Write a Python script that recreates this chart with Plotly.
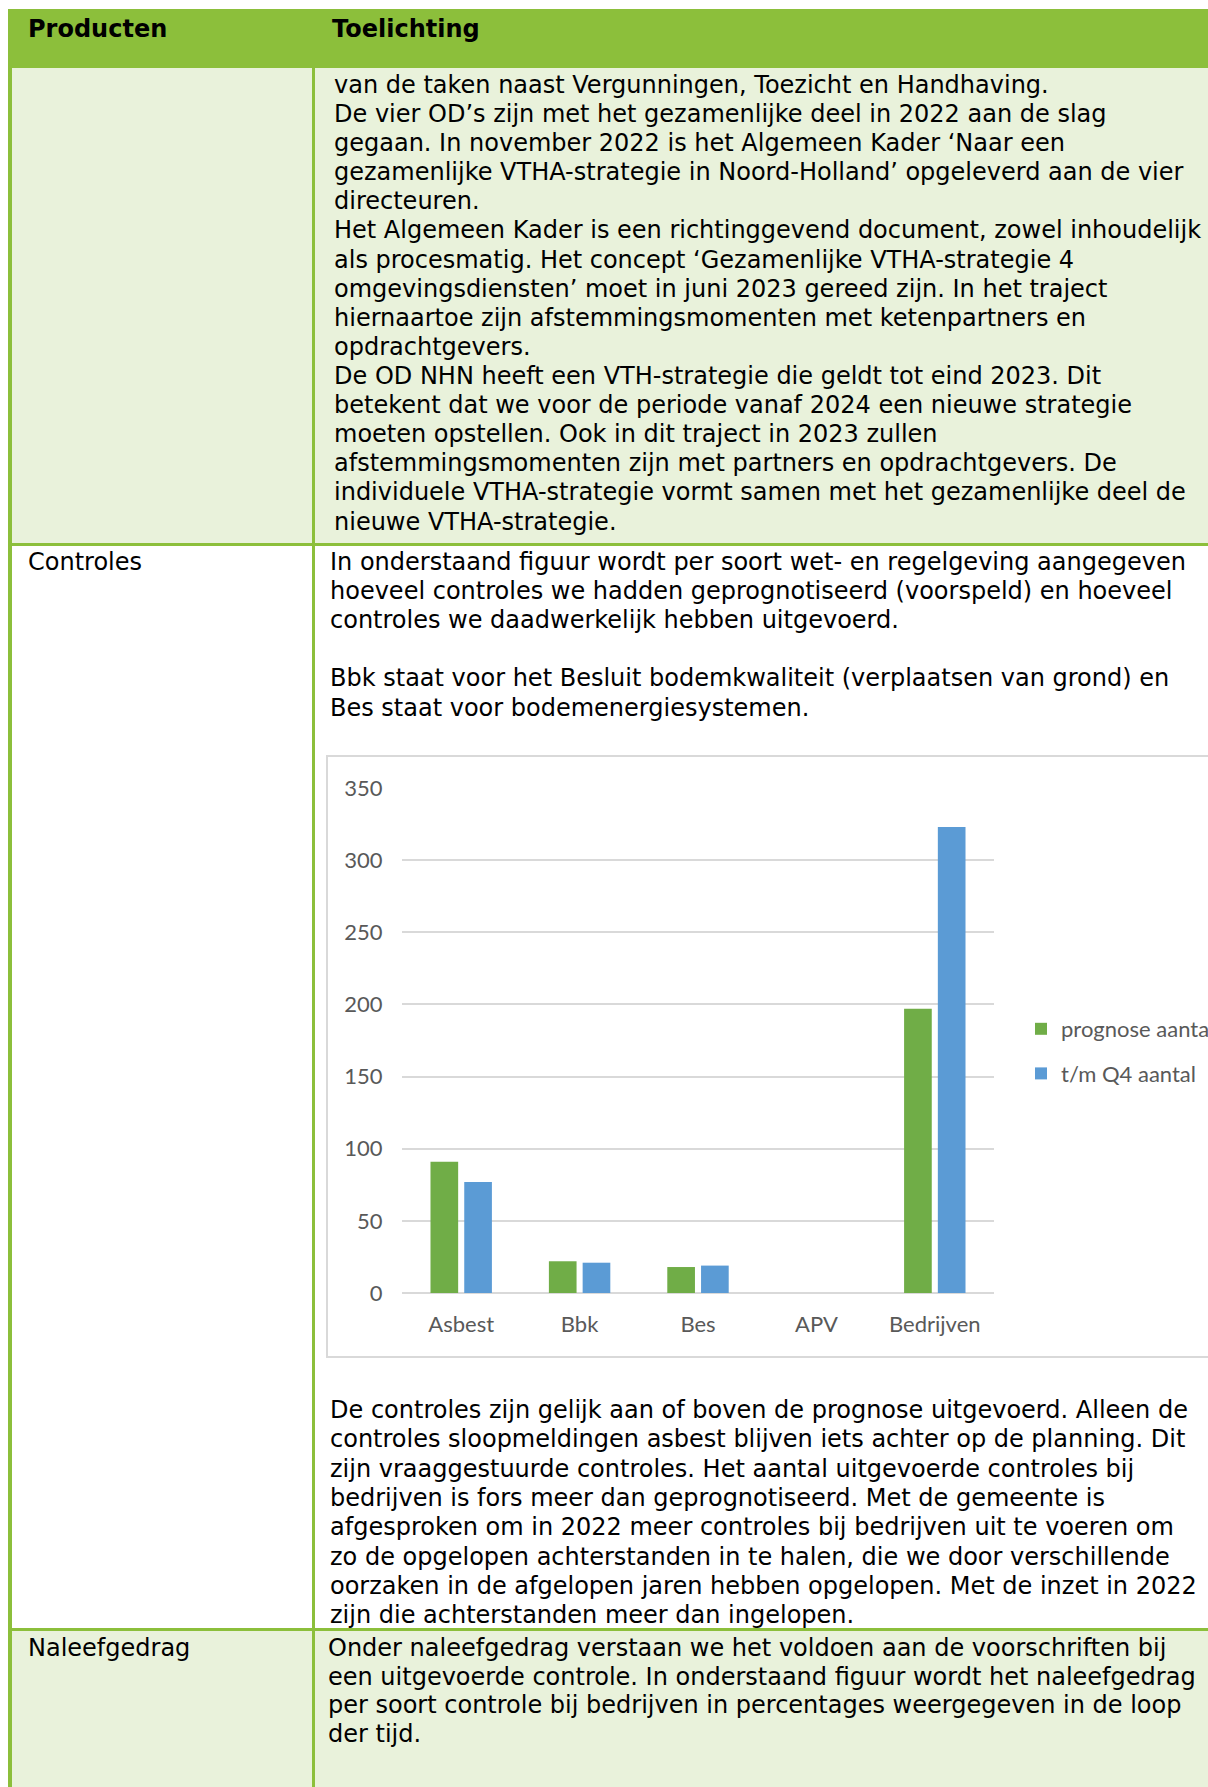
import plotly.graph_objects as go

# ---------------- data ----------------
categories = ["Asbest", "Bbk", "Bes", "APV", "Bedrijven"]
prognose_aantal = [91, 22, 18, 0, 197]
tm_q4_aantal = [77, 21, 19, 0, 323]
y_ticks = [0, 50, 100, 150, 200, 250, 300, 350]

header_left = "Producten"
header_right = "Toelichting"

row1_lines = [
    "van de taken naast Vergunningen, Toezicht en Handhaving.",
    "De vier OD’s zijn met het gezamenlijke deel in 2022 aan de slag",
    "gegaan. In november 2022 is het Algemeen Kader ‘Naar een",
    "gezamenlijke VTHA-strategie in Noord-Holland’ opgeleverd aan de vier",
    "directeuren.",
    "Het Algemeen Kader is een richtinggevend document, zowel inhoudelijk",
    "als procesmatig. Het concept ‘Gezamenlijke VTHA-strategie 4",
    "omgevingsdiensten’ moet in juni 2023 gereed zijn. In het traject",
    "hiernaartoe zijn afstemmingsmomenten met ketenpartners en",
    "opdrachtgevers.",
    "De OD NHN heeft een VTH-strategie die geldt tot eind 2023. Dit",
    "betekent dat we voor de periode vanaf 2024 een nieuwe strategie",
    "moeten opstellen. Ook in dit traject in 2023 zullen",
    "afstemmingsmomenten zijn met partners en opdrachtgevers. De",
    "individuele VTHA-strategie vormt samen met het gezamenlijke deel de",
    "nieuwe VTHA-strategie.",
]
row2_label = "Controles"
row2_intro = [
    "In onderstaand figuur wordt per soort wet- en regelgeving aangegeven",
    "hoeveel controles we hadden geprognotiseerd (voorspeld) en hoeveel",
    "controles we daadwerkelijk hebben uitgevoerd.",
    "",
    "Bbk staat voor het Besluit bodemkwaliteit (verplaatsen van grond) en",
    "Bes staat voor bodemenergiesystemen.",
]
row2_after = [
    "De controles zijn gelijk aan of boven de prognose uitgevoerd. Alleen de",
    "controles sloopmeldingen asbest blijven iets achter op de planning. Dit",
    "zijn vraaggestuurde controles. Het aantal uitgevoerde controles bij",
    "bedrijven is fors meer dan geprognotiseerd. Met de gemeente is",
    "afgesproken om in 2022 meer controles bij bedrijven uit te voeren om",
    "zo de opgelopen achterstanden in te halen, die we door verschillende",
    "oorzaken in de afgelopen jaren hebben opgelopen. Met de inzet in 2022",
    "zijn die achterstanden meer dan ingelopen.",
]
row3_label = "Naleefgedrag"
row3_lines = [
    "Onder naleefgedrag verstaan we het voldoen aan de voorschriften bij",
    "een uitgevoerde controle. In onderstaand figuur wordt het naleefgedrag",
    "per soort controle bij bedrijven in percentages weergegeven in de loop",
    "der tijd.",
]

# ---------------- page geometry helpers ----------------
W, H = 1208, 1787


def px(x):
    return x / W


def py(y):
    return 1 - y / H


GREEN = "#8CBF3B"
LIGHT = "#E9F2DB"
TEXT_FONT = dict(family="DejaVu Sans, Verdana, sans-serif", size=24, color="#000000")
CHART_FONT = dict(family="Lato, Calibri, sans-serif", size=22, color="#595959")

shapes = []


def rect(x0, y0, x1, y1, fill, line_color=None, line_width=0):
    shapes.append(dict(
        type="rect", xref="paper", yref="paper", layer="below",
        x0=px(x0), x1=px(x1), y0=py(y1), y1=py(y0),
        fillcolor=fill,
        line=dict(color=line_color or fill, width=line_width),
    ))


# backgrounds
rect(8, 9, 1215, 68, GREEN)
rect(8, 68, 1215, 544, LIGHT)
rect(8, 1630, 1215, 1795, LIGHT)
# borders
rect(8, 68, 12, 1795, GREEN)
rect(312, 68, 315, 1795, GREEN)
rect(8, 543, 1215, 546, GREEN)
rect(8, 1628, 1215, 1631, GREEN)
# chart frame
rect(327, 756, 1220, 1357, "#FFFFFF", "#D9D9D9", 2)

annotations = []


def text(x, y, s, bold=False):
    if not s:
        return
    annotations.append(dict(
        xref="paper", yref="paper", x=px(x), y=py(y),
        xanchor="left", yanchor="middle", showarrow=False,
        text=f"<b>{s}</b>" if bold else s,
        font=TEXT_FONT,
    ))


text(26, 29, header_left, bold=True)
text(330, 29, header_right, bold=True)
for i, s in enumerate(row1_lines):
    text(332, 85 + 29.1 * i, s)
text(26, 562, row2_label)
for i, s in enumerate(row2_intro):
    text(328, 562 + 29.1 * i, s)
for i, s in enumerate(row2_after):
    text(328, 1410 + 29.3 * i, s)
text(26, 1648, row3_label)
for i, s in enumerate(row3_lines):
    text(326, 1648 + 28.7 * i, s)

# ---------------- chart ----------------
fig = go.Figure()
fig.add_trace(go.Bar(
    x=categories, y=prognose_aantal, name="prognose aantal",
    marker=dict(color="#70AD47", line=dict(width=0)), legendgroup="a",
))
fig.add_trace(go.Bar(
    x=categories, y=tm_q4_aantal, name="t/m Q4 aantal",
    marker=dict(color="#5B9BD5", line=dict(width=0)), legendgroup="b",
))

fig.update_layout(
    width=W, height=H,
    margin=dict(l=0, r=0, t=0, b=0, pad=0, autoexpand=False),
    paper_bgcolor="#FFFFFF", plot_bgcolor="rgba(0,0,0,0)",
    barmode="group", bargap=0.43, bargroupgap=0.18,
    shapes=shapes, annotations=annotations,
    showlegend=True,
    legend=dict(
        x=px(1021), y=py(1008), xanchor="left", yanchor="top",
        font=CHART_FONT, bgcolor="rgba(0,0,0,0)", borderwidth=0,
        tracegroupgap=13, traceorder="grouped",
    ),
    xaxis=dict(
        domain=[px(402), px(994)], type="category", automargin=False,
        showgrid=False, showline=False, zeroline=False,
        ticks="outside", ticklen=12, tickcolor="rgba(0,0,0,0)",
        tickfont=CHART_FONT, fixedrange=True,
    ),
    yaxis=dict(
        domain=[py(1293), py(788)], range=[0, 350], automargin=False,
        tickvals=y_ticks,
        showgrid=True, gridcolor="#D9D9D9", gridwidth=1.5,
        zeroline=True, zerolinecolor="#D9D9D9", zerolinewidth=1.5,
        showline=False,
        ticks="outside", ticklen=14, tickcolor="rgba(0,0,0,0)",
        tickfont=CHART_FONT, fixedrange=True,
    ),
    hovermode=False,
)

fig.write_html(
    "out.html",
    config={"displayModeBar": False},
    post_script="document.body.style.margin='0';document.body.style.overflow='hidden';",
)
